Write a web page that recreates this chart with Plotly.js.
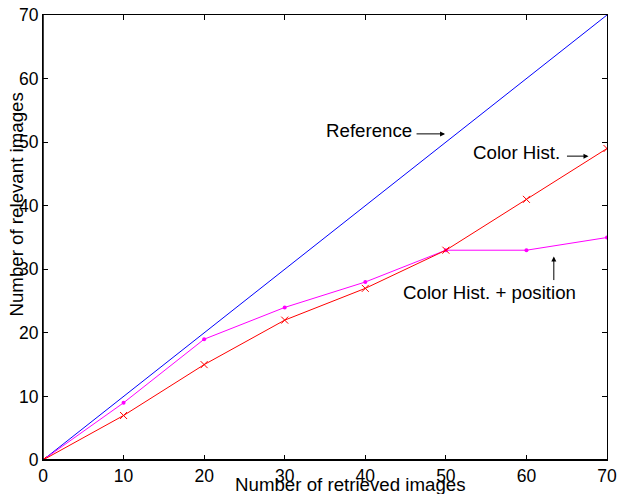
<!DOCTYPE html>
<html><head><meta charset="utf-8">
<script src="https://cdn.plot.ly/plotly-3.0.1.min.js"></script>
<style>html,body{margin:0;padding:0;background:#fff}</style>
</head><body><div id="plot" style="width:621px;height:494px"></div>
<script>
const retrieved = [0, 10, 20, 30, 40, 50, 60, 70];
const reference = [0, 10, 20, 30, 40, 50, 60, 70];
const colorHist = [0, 7, 15, 22, 27, 33, 41, 49];
const colorHistPos = [0, 9, 19, 24, 28, 33, 33, 35];
const tickVals = [0, 10, 20, 30, 40, 50, 60, 70];
const xTitle = 'Number of retrieved images';
const yTitle = 'Number of relevant images';

const F = 'Liberation Sans, Arial, Helvetica, sans-serif';
const TS = 18.7;
const traces = [
  {x: retrieved, y: reference, mode: 'lines', line: {color: '#0000ff', width: 1}, name: 'Reference'},
  {x: retrieved, y: colorHistPos, mode: 'lines+markers', line: {color: '#ff00ff', width: 1},
   marker: {color: '#ff00ff', size: 4, symbol: 'circle'}, name: 'Color Hist. + position'},
  {x: retrieved, y: colorHist, mode: 'lines+markers', line: {color: '#ff0000', width: 1},
   marker: {color: '#ff0000', size: 7, symbol: 'x-thin', line: {color: '#ff0000', width: 1}}, name: 'Color Hist.'}
];
const axisCommon = {
  range: [0, 70], tickvals: tickVals, ticks: 'inside', ticklen: 5, tickwidth: 1, tickcolor: '#000',
  showline: true, linecolor: '#000', linewidth: 1, mirror: 'ticks', showgrid: false, zeroline: false,
  tickfont: {family: F, size: 17.5, color: '#000'}, ticklabelstandoff: 0
};
const layout = {
  width: 621, height: 494,
  margin: {l: 43, r: 14, t: 15, b: 34},
  paper_bgcolor: '#fff', plot_bgcolor: '#fff',
  showlegend: false,
  xaxis: Object.assign({}, axisCommon),
  yaxis: Object.assign({}, axisCommon),
  shapes: [
    {type: 'line', xref: 'paper', yref: 'paper', x0: 0, x1: 1, y0: 0, y1: 0, line: {color: '#000', width: 2}},
    {type: 'line', xref: 'paper', yref: 'paper', x0: 0, x1: 0, y0: 0, y1: 1, line: {color: '#000', width: 1.5}}
  ],
  annotations: [
    {x: 0.546, y: 0, xref: 'paper', yref: 'paper', yshift: -24, text: xTitle, showarrow: false, xanchor: 'center', yanchor: 'middle', borderpad: 0, font: {family: F, size: TS, color: '#000'}},
    {x: 0, y: 0.574, xref: 'paper', yref: 'paper', xshift: -26, text: yTitle, textangle: -90, showarrow: false, xanchor: 'center', yanchor: 'middle', borderpad: 0, font: {family: F, size: TS, color: '#000'}},
    {x: 46, y: 51.8, xref: 'x', yref: 'y', text: 'Reference', showarrow: false, xanchor: 'right', yanchor: 'middle', font: {family: F, size: TS, color: '#000'}},
    {x: 49.9, y: 51.3, xref: 'x', yref: 'y', text: '', showarrow: true, ax: -30, ay: 0, arrowhead: 2, arrowsize: 1, arrowwidth: 1, arrowcolor: '#000'},
    {x: 64.4, y: 48.3, xref: 'x', yref: 'y', text: 'Color Hist.', showarrow: false, xanchor: 'right', yanchor: 'middle', font: {family: F, size: TS, color: '#000'}},
    {x: 67.7, y: 47.8, xref: 'x', yref: 'y', text: '', showarrow: true, ax: -23, ay: 0, arrowhead: 2, arrowsize: 1, arrowwidth: 1, arrowcolor: '#000'},
    {x: 44.4, y: 26.3, xref: 'x', yref: 'y', text: 'Color Hist. + position', showarrow: false, xanchor: 'left', yanchor: 'middle', font: {family: F, size: TS, color: '#000'}},
    {x: 63.4, y: 32.0, xref: 'x', yref: 'y', text: '', showarrow: true, ax: 0, ay: 25, arrowhead: 2, arrowsize: 1, arrowwidth: 1, arrowcolor: '#000'}
  ]
};
Plotly.newPlot('plot', traces, layout, {displayModeBar: false, staticPlot: true});
</script></body></html>
